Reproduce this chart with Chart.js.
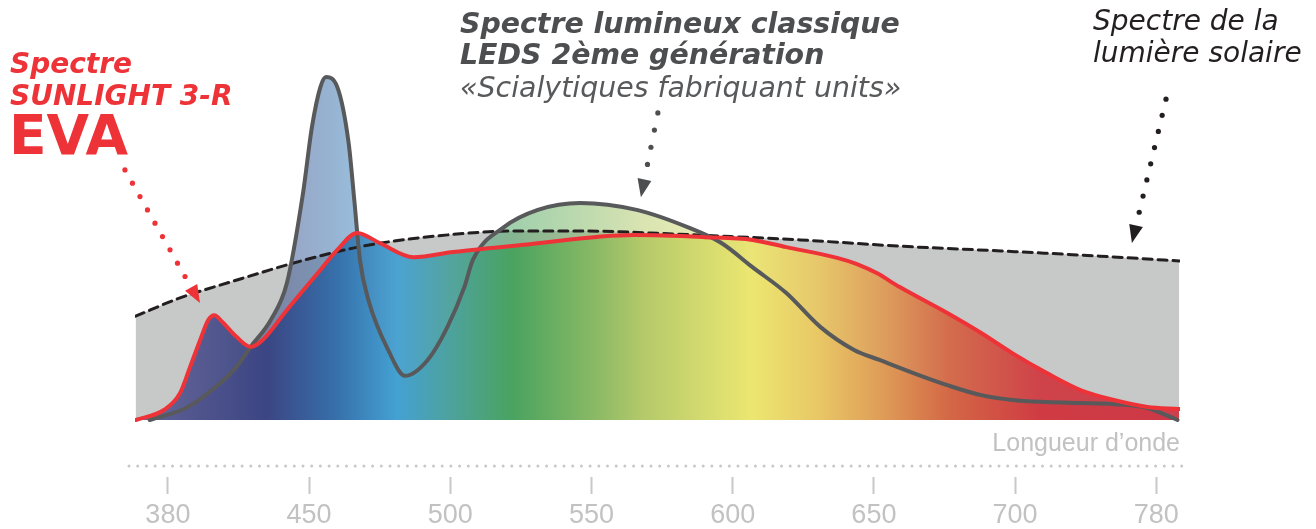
<!DOCTYPE html>
<html lang="fr">
<head>
<meta charset="utf-8">
<title>Spectre lumineux</title>
<script src="https://cdn.jsdelivr.net/npm/chart.js@4.4.1/dist/chart.umd.min.js"></script>
<style>
  html, body { margin: 0; padding: 0; background: #fff; }
  #wrap { width: 1316px; height: 529px; }
</style>
</head>
<body>
<div id="wrap"><canvas id="spectre" width="1316" height="529"></canvas></div>
<script>
  // ====================================================
  // Données (longueur d'onde en nm, intensité relative)
  // ====================================================
  const WAVELENGTH_TICKS = [380, 450, 500, 550, 600, 650, 700, 780];

  // Spectre de la lumière solaire (ligne pointillée)
  const SOLAR_NM = [364, 386, 411, 446, 466, 489, 525, 546, 571, 596, 624, 659, 695, 748, 793];
  const SOLAR_VALUES = [30.1, 35.4, 40.0, 46.1, 49.9, 52.8, 54.8, 54.8, 54.2, 53.3, 52.2, 50.4, 49.0, 47.5, 46.1];

  // Spectre SUNLIGHT 3-R EVA (ligne rouge)
  const SUNLIGHT_NM = [364, 378, 386, 391, 396, 400, 403, 407, 414, 421, 427, 439, 454, 460, 467, 475, 487,
    501, 525, 565, 590, 607, 619, 637, 644, 651, 659, 676, 688, 699, 718, 737, 756, 775, 793];
  const SUNLIGHT_VALUES = [0, 2.9, 7.8, 15.4, 23.2, 29.0, 30.4, 28.4, 24.1, 21.2, 23.2, 31.9, 43.5, 49.3, 54.2, 51.3, 47.2,
    48.7, 50.7, 53.6, 53.0, 52.2, 50.1, 47.0, 45.2, 42.6, 38.6, 31.0, 25.2, 19.4, 13.6, 8.7, 5.8, 3.8, 3.2];

  // Spectre LEDS 2ème génération (ligne grise)
  const LED_NM = [371, 390, 406, 414, 421, 431, 439, 447, 451, 454, 456, 460, 464, 466, 468, 471, 478, 484, 492,
    499, 505, 508, 519, 531, 546, 566, 584, 596, 607, 619, 631, 643, 652, 664, 676, 688, 699, 718, 737, 756, 775, 788, 792];
  const LED_VALUES = [0, 3.8, 10.7, 15.4, 21.2, 29.0, 39.7, 65.8, 84.9, 96.5, 99.4, 96.5, 80.3, 63.8, 46.4, 34.8, 20.3, 12.8, 17.4,
    27.0, 38.6, 46.4, 55.9, 60.9, 62.9, 60.9, 55.9, 51.3, 44.3, 36.8, 27.0, 20.3, 17.4, 13.6, 10.1, 7.2, 5.8, 5.2, 4.9, 4.6, 3.5, 0.9, 0];

  // Couleurs du spectre visible (dégradé de remplissage)
  const SPECTRUM_NM = [364, 395, 429, 459, 481, 500, 522, 553, 568, 588, 607, 631, 653, 677, 714, 793];
  const SPECTRUM_COLORS = ['#5b5f96', '#4a4e8a', '#343f80', '#2f6aa8', '#3d9fd3', '#47a09b', '#43a15a', '#8bba60',
    '#b3c965', '#d2da6a', '#eee86c', '#eac660', '#e09a52', '#d4623f', '#d0343c', '#cd3140'];

  // Textes et flèches
  const LABELS = [
    { text: 'Spectre', x: 10, y: 73, font: 'oblique 700 28px "DejaVu Sans"', color: '#ee3338' },
    { text: 'SUNLIGHT 3-R', x: 10, y: 105, font: 'oblique 700 28px "DejaVu Sans"', color: '#ee3338' },
    { text: 'EVA', x: 9, y: 154, font: '700 55px "DejaVu Sans"', color: '#ee3338' },
    { text: 'Spectre lumineux classique', x: 460, y: 33, font: 'oblique 700 28.4px "DejaVu Sans"', color: '#4d4e50' },
    { text: 'LEDS 2ème génération', x: 460, y: 64, font: 'oblique 700 28.4px "DejaVu Sans"', color: '#4d4e50' },
    { text: '«Scialytiques fabriquant units»', x: 460, y: 97, font: 'oblique 400 28.4px "DejaVu Sans"', color: '#58595b' },
    { text: 'Spectre de la', x: 1093, y: 30, font: 'oblique 400 28px "DejaVu Sans"', color: '#231f20' },
    { text: 'lumière solaire', x: 1093, y: 62, font: 'oblique 400 28px "DejaVu Sans"', color: '#231f20' }
  ];

  // flèches : départ / pointe en (nm, intensité)
  const ARROWS = [
    { from: [358.7, 72.5], to: [395.9, 33.9], color: '#ee3338', gap: 15.3 },
    { from: [573.5, 89.0], to: [567.5, 64.6], color: '#4d4e50', gap: 17.5 },
    { from: [785.5, 93.0], to: [766.2, 51.3], color: '#231f20', gap: 16.6 }
  ];

  // ====================================================
  // Échelle : nm -> position (graduations régulières)
  // ====================================================
  function nmToSlot(nm) {
    const t = WAVELENGTH_TICKS;
    let i = 0;
    while (i < t.length - 2 && nm > t[i + 1]) i++;
    return i + (nm - t[i]) / (t[i + 1] - t[i]);
  }

  function toPoints(nms, values) {
    return nms.map(function (nm, i) {
      return { x: nmToSlot(nm), y: values[i] };
    });
  }

  function hexToRgba(hex, alpha) {
    const n = parseInt(hex.slice(1), 16);
    return 'rgba(' + (n >> 16) + ',' + ((n >> 8) & 255) + ',' + (n & 255) + ',' + alpha + ')';
  }

  function spectrumGradient(chart, alpha) {
    const area = chart.chartArea;
    const xs = chart.scales.x;
    const g = chart.ctx.createLinearGradient(area.left, 0, area.right, 0);
    SPECTRUM_NM.forEach(function (nm, i) {
      const px = xs.getPixelForValue(nmToSlot(nm));
      const pos = Math.min(1, Math.max(0, (px - area.left) / (area.right - area.left)));
      g.addColorStop(pos, hexToRgba(SPECTRUM_COLORS[i], alpha));
    });
    return g;
  }

  function scriptedGradient(alpha) {
    return function (context) {
      const chart = context.chart;
      if (!chart.chartArea) return 'rgba(0,0,0,0)';
      return spectrumGradient(chart, alpha);
    };
  }

  // ====================================================
  // Textes + flèches pointillées + ligne d'axe
  // ====================================================
  function drawArrow(ctx, chart, a) {
    const xs = chart.scales.x;
    const ys = chart.scales.y;
    const x1 = xs.getPixelForValue(nmToSlot(a.from[0]));
    const y1 = ys.getPixelForValue(a.from[1]);
    const x2 = xs.getPixelForValue(nmToSlot(a.to[0]));
    const y2 = ys.getPixelForValue(a.to[1]);
    const len = Math.hypot(x2 - x1, y2 - y1);
    const ux = (x2 - x1) / len;
    const uy = (y2 - y1) / len;
    const head = 18;
    ctx.fillStyle = a.color;
    for (let d = 0; d <= len - head - 6; d += a.gap) {
      ctx.beginPath();
      ctx.arc(x1 + ux * d, y1 + uy * d, 2.6, 0, Math.PI * 2);
      ctx.fill();
    }
    const bx = x2 - ux * head;
    const by = y2 - uy * head;
    ctx.beginPath();
    ctx.moveTo(x2, y2);
    ctx.lineTo(bx - uy * 7, by + ux * 7);
    ctx.lineTo(bx + uy * 7, by - ux * 7);
    ctx.closePath();
    ctx.fill();
  }

  const annotationsPlugin = {
    id: 'annotations',
    afterDraw: function (chart) {
      const ctx = chart.ctx;
      const area = chart.chartArea;
      ctx.save();

      // ligne d'axe en pointillés ronds
      ctx.fillStyle = '#c8c8c8';
      for (let x = area.left - 6; x <= area.right + 4; x += 8.7) {
        ctx.beginPath();
        ctx.arc(x, area.bottom, 1.5, 0, Math.PI * 2);
        ctx.fill();
      }

      ctx.textBaseline = 'alphabetic';
      ctx.textAlign = 'left';
      LABELS.forEach(function (l) {
        ctx.font = l.font;
        ctx.fillStyle = l.color;
        ctx.fillText(l.text, l.x, l.y);
      });

      // titre d'axe
      ctx.font = '25px "Liberation Sans"';
      ctx.fillStyle = '#c2c2c2';
      ctx.textAlign = 'right';
      ctx.fillText('Longueur d\u2019onde', area.right, 451);

      ARROWS.forEach(function (a) {
        drawArrow(ctx, chart, a);
      });
      ctx.restore();
    }
  };

  // ====================================================
  // Graphique
  // ====================================================
  const ctx = document.getElementById('spectre').getContext('2d');
  new Chart(ctx, {
    type: 'line',
    data: {
      datasets: [
        {
          label: 'SUNLIGHT 3-R EVA',
          data: toPoints(SUNLIGHT_NM, SUNLIGHT_VALUES),
          borderColor: '#ee3338',
          borderWidth: 4,
          backgroundColor: scriptedGradient(0.9),
          fill: 'origin'
        },
        {
          label: 'LEDS 2ème génération',
          data: toPoints(LED_NM, LED_VALUES),
          borderColor: '#58595b',
          borderWidth: 4,
          backgroundColor: scriptedGradient(0.5),
          fill: 'origin'
        },
        {
          label: 'Lumière solaire',
          data: toPoints(SOLAR_NM, SOLAR_VALUES),
          borderColor: '#231f20',
          borderWidth: 3,
          borderDash: [9, 6],
          backgroundColor: '#c7c8c8',
          fill: 'origin'
        }
      ]
    },
    options: {
      responsive: false,
      animation: false,
      layout: { padding: { left: 135, right: 136, top: 50, bottom: 0 } },
      elements: {
        point: { radius: 0 },
        line: { cubicInterpolationMode: 'monotone', borderCapStyle: 'round', borderJoinStyle: 'round' }
      },
      plugins: {
        legend: { display: false },
        tooltip: { enabled: false },
        filler: { drawTime: 'beforeDatasetsDraw' }
      },
      scales: {
        x: {
          type: 'linear',
          min: -0.233,
          max: 7.168,
          afterBuildTicks: function (axis) {
            axis.ticks = WAVELENGTH_TICKS.map(function (_, i) {
              return { value: i };
            });
          },
          afterFit: function (axis) {
            axis.height = 63;
          },
          border: { display: false },
          grid: {
            drawOnChartArea: false,
            drawTicks: true,
            tickLength: 28,
            tickWidth: 2,
            tickColor: '#c8c8c8',
            tickBorderDash: [0, 11, 17, 100]
          },
          ticks: {
            padding: 5,
            color: '#c2c2c2',
            font: { family: 'Liberation Sans', size: 27 },
            maxRotation: 0,
            autoSkip: false,
            callback: function (value) {
              return WAVELENGTH_TICKS[value];
            }
          }
        },
        y: {
          display: false,
          min: -13.33,
          max: 107.25
        }
      }
    },
    plugins: [annotationsPlugin]
  });
</script>
</body>
</html>
